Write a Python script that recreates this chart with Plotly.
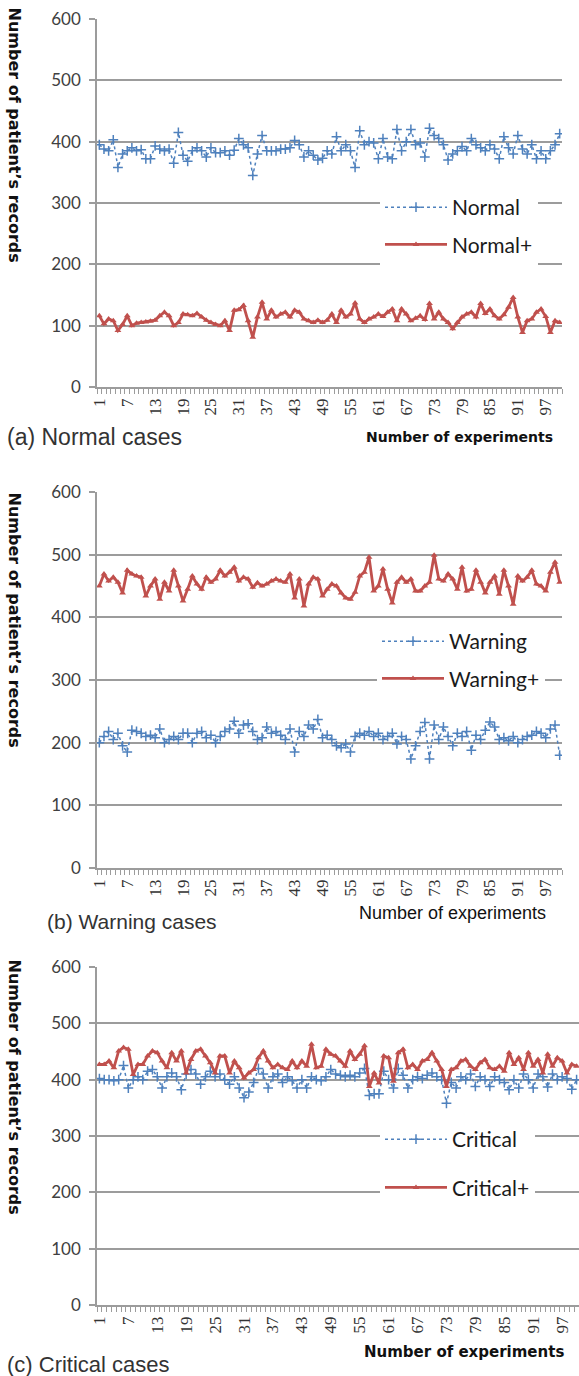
import plotly.graph_objects as go

# ---------------- data ----------------
experiments = list(range(1, 101))
x_tick_vals = list(range(1, 101, 6))
x_tick_text = [str(v) for v in x_tick_vals]
y_tick_vals = [0, 100, 200, 300, 400, 500, 600]

normal = [395, 388, 385, 403, 358, 380, 385, 390, 385, 387,
          372, 372, 393, 388, 385, 388, 365, 415, 378, 368,
          385, 390, 385, 375, 390, 382, 382, 385, 378, 386,
          405, 395, 390, 345, 380, 410, 385, 385, 385, 388,
          388, 390, 402, 395, 375, 385, 378, 370, 373, 385,
          380, 408, 385, 395, 385, 358, 418, 395, 400, 398,
          372, 405, 375, 372, 420, 385, 400, 420, 395, 398,
          375, 422, 410, 405, 395, 370, 380, 385, 392, 385,
          405, 395, 390, 385, 395, 388, 372, 408, 390, 380,
          410, 388, 380, 395, 372, 385, 372, 385, 395, 413]

normal_plus = [116, 103, 111, 108, 92, 102, 116, 100, 104, 105,
               106, 107, 109, 116, 122, 116, 100, 105, 119, 118,
               116, 120, 114, 109, 105, 102, 100, 108, 92, 125,
               126, 133, 108, 81, 114, 138, 111, 125, 114, 119,
               122, 114, 125, 122, 111, 108, 105, 109, 105, 109,
               119, 105, 125, 114, 119, 137, 111, 105, 111, 114,
               119, 115, 122, 127, 108, 127, 119, 108, 112, 116,
               110, 136, 111, 122, 111, 105, 95, 105, 114, 119,
               122, 114, 136, 120, 127, 116, 111, 118, 130, 146,
               114, 89, 108, 111, 122, 127, 115, 89, 108, 105]

warning = [200, 210, 218, 205, 215, 195, 185, 220, 218, 215,
           210, 212, 208, 222, 200, 205, 210, 205, 215, 215,
           200, 215, 218, 208, 212, 200, 210, 218, 222, 234,
           215, 228, 230, 218, 205, 208, 225, 215, 218, 212,
           205, 222, 185, 218, 210, 228, 222, 237, 208, 212,
           205, 195, 192, 198, 185, 210, 215, 212, 218, 210,
           215, 205, 210, 215, 198, 210, 205, 174, 195, 218,
           232, 174, 228, 205, 225, 210, 195, 215, 210, 218,
           188, 212, 205, 220, 233, 225, 205, 208, 203, 210,
           200, 205, 210, 212, 218, 215, 208, 222, 228, 180]

warning_plus = [450, 469, 458, 464, 456, 439, 475, 469, 466, 464,
                434, 450, 461, 429, 456, 442, 475, 450, 426, 445,
                466, 453, 445, 464, 456, 461, 475, 466, 472, 480,
                458, 464, 461, 448, 455, 450, 453, 458, 461, 458,
                456, 469, 431, 461, 418, 453, 464, 461, 434, 445,
                453, 450, 439, 431, 429, 440, 466, 472, 496, 442,
                450, 477, 445, 423, 456, 464, 456, 461, 442, 442,
                450, 456, 499, 461, 458, 469, 461, 445, 480, 442,
                445, 475, 456, 439, 456, 466, 437, 475, 450, 421,
                466, 458, 464, 475, 453, 450, 442, 472, 488, 456]

critical = [402, 400, 400, 398, 400, 425, 385, 400, 405, 400,
            415, 418, 405, 385, 405, 412, 405, 382, 410, 418,
            410, 392, 405, 415, 405, 410, 400, 392, 405, 385,
            368, 378, 395, 420, 410, 385, 405, 410, 395, 405,
            398, 385, 400, 385, 405, 400, 398, 405, 418, 410,
            408, 405, 408, 405, 412, 420, 372, 375, 375, 415,
            400, 385, 420, 408, 385, 400, 405, 402, 408, 412,
            405, 400, 358, 395, 385, 405, 400, 410, 388, 405,
            400, 388, 405, 400, 395, 382, 400, 385, 410, 400,
            385, 410, 405, 387, 410, 400, 405, 402, 383, 400]

critical_plus = [427, 427, 433, 421, 451, 457, 454, 409, 427, 427,
                 442, 451, 448, 433, 421, 448, 433, 451, 412, 436,
                 451, 454, 442, 430, 412, 442, 442, 412, 433, 421,
                 403, 412, 418, 439, 451, 433, 421, 427, 421, 418,
                 433, 421, 433, 424, 463, 421, 424, 454, 445, 442,
                 433, 424, 451, 436, 445, 460, 388, 412, 394, 442,
                 439, 397, 448, 454, 421, 427, 418, 433, 436, 448,
                 433, 418, 388, 418, 421, 433, 436, 424, 418, 430,
                 436, 421, 418, 424, 415, 448, 427, 439, 418, 448,
                 424, 436, 412, 445, 424, 439, 433, 412, 427, 424]

panels = [
    ("Normal", "Normal+", normal, normal_plus, "(a) Normal cases"),
    ("Warning", "Warning+", warning, warning_plus, "(b) Warning cases"),
    ("Critical", "Critical+", critical, critical_plus, "(c) Critical cases"),
]

# ---------------- layout helpers ----------------
W, H = 579, 1376


def px(x):
    return x / W


def py(y):
    return 1 - y / H


BLUE = "#4f81bd"
RED = "#c0504d"
GRID = "#9c9c9c"

# pixel boxes of the three plot areas: (left, right, top, bottom)
boxes = [(97, 562, 19, 387), (97, 562, 492, 868), (97, 579, 967, 1305)]
legend_pos = [(380, 187), (377, 621), (380, 1119)]
legend_gaps = [7, 7, 18]

fig = go.Figure()

for k, (bname, rname, bvals, rvals, caption) in enumerate(panels):
    sfx = "" if k == 0 else str(k + 1)
    leg = "legend" + sfx
    fig.add_trace(go.Scatter(
        x=experiments, y=bvals, name=bname, mode="lines+markers",
        xaxis="x" + sfx, yaxis="y" + sfx, legend=leg, legendgroup=bname,
        line=dict(color=BLUE, width=1.5, dash="dot"),
        marker=dict(symbol="cross-thin", size=7, color=BLUE,
                    line=dict(color=BLUE, width=1.5)),
    ))
    fig.add_trace(go.Scatter(
        x=experiments, y=rvals, name=rname, mode="lines+markers",
        xaxis="x" + sfx, yaxis="y" + sfx, legend=leg, legendgroup=rname,
        line=dict(color=RED, width=2.8),
        marker=dict(symbol="triangle-up", size=6, color=RED),
    ))

layout = dict(
    width=W, height=H,
    margin=dict(l=0, r=0, t=0, b=0, pad=0, autoexpand=False),
    paper_bgcolor="white", plot_bgcolor="white",
    showlegend=True,
)

for k in range(3):
    sfx = "" if k == 0 else str(k + 1)
    l, r, t, b = boxes[k]
    layout["xaxis" + sfx] = dict(
        domain=[px(l), px(r)], range=[0.5, 100.5], anchor="y" + sfx,
        automargin=False,
        tickmode="array", tickvals=x_tick_vals, ticktext=x_tick_text,
        tickangle=-90, ticks="", ticklabelstandoff=3,
        tickfont=dict(family="Liberation Serif", size=17, color="#333333"),
        showline=True, linecolor=GRID, linewidth=1.5,
        showgrid=False, zeroline=False,
        minor=dict(tickmode="linear", tick0=0.5, dtick=1, ticks="outside",
                   ticklen=5, tickcolor=GRID, tickwidth=1, showgrid=False),
    )
    layout["yaxis" + sfx] = dict(
        domain=[py(b), py(t)], range=[0, 600], anchor="x" + sfx,
        automargin=False,
        tickmode="array", tickvals=y_tick_vals,
        ticks="outside", ticklen=6, tickcolor=GRID, tickwidth=1.5,
        ticklabelstandoff=5,
        tickfont=dict(family="Lato", size=17, color="#404040"),
        showline=True, linecolor=GRID, linewidth=1.5,
        showgrid=True, gridcolor=GRID, gridwidth=1.5, zeroline=False,
    )
    lx, ly = legend_pos[k]
    layout["legend" + sfx] = dict(
        x=px(lx), y=py(ly), xanchor="left", yanchor="top",
        bgcolor="white", borderwidth=0, itemwidth=62,
        tracegroupgap=legend_gaps[k], traceorder="grouped",
        font=dict(family="Lato", size=21, color="#1a1a1a"),
    )

fig.update_layout(**layout)

annotations = []
title_tops = [5, 490, 957]
for k in range(3):
    annotations.append(dict(
        text="<b>Number of patient\u2019s records</b>", textangle=90,
        xref="paper", yref="paper", x=px(14), y=py(title_tops[k]),
        xanchor="center", yanchor="top", showarrow=False,
        font=dict(family="DejaVu Sans", size=16, color="#111111"),
    ))

captions = [("(a) Normal cases", 5, 437, 23), ("(b) Warning cases", 45, 921, 21),
            ("(c) Critical cases", 5, 1364, 22)]
for text, x, y, size in captions:
    annotations.append(dict(
        text=text, xref="paper", yref="paper", x=px(x), y=py(y),
        xanchor="left", yanchor="middle", showarrow=False,
        font=dict(family="Liberation Sans", size=size, color="#333333"),
    ))

xtitles = [("<b>Number of experiments</b>", 555, 437, "DejaVu Sans", 14),
           ("Number of experiments", 548, 913, "Liberation Sans", 18),
           ("<b>Number of experiments</b>", 566, 1352, "DejaVu Sans", 15)]
for text, x, y, fam, size in xtitles:
    annotations.append(dict(
        text=text, xref="paper", yref="paper", x=px(x), y=py(y),
        xanchor="right", yanchor="middle", showarrow=False,
        font=dict(family=fam, size=size, color="#111111"),
    ))

fig.update_layout(annotations=annotations)

fig.write_html(
    "out.html",
    config={"displayModeBar": False},
    post_script="document.body.style.margin='0';document.body.style.overflow='hidden';",
)
